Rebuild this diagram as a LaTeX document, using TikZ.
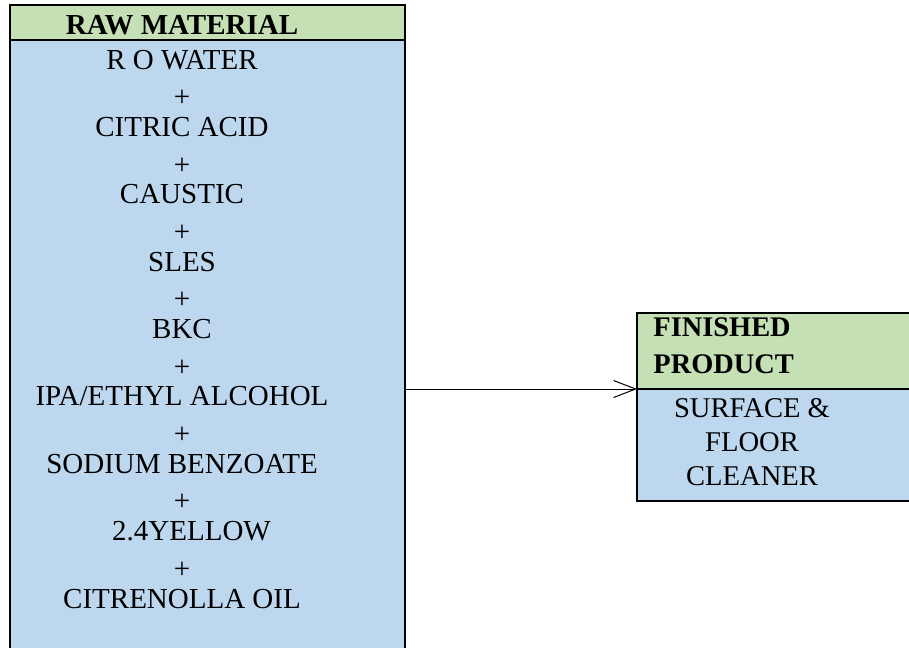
\documentclass[tikz,border=0pt]{standalone}
\usepackage{fontspec}
\setmainfont{Liberation Serif}
\usetikzlibrary{positioning, arrows.meta}
\definecolor{headgreen}{HTML}{C5E0B4}
\definecolor{bodyblue}{HTML}{BDD7EE}
\newcommand{\plusline}{\raisebox{-2pt}{+}}
\tikzstyle{headbox} = [rectangle, draw=black, line width=1pt, fill=headgreen, inner sep=0pt, outer sep=0pt]
\tikzstyle{bodybox} = [rectangle, draw=black, line width=1pt, fill=bodyblue, inner sep=0pt, outer sep=0pt]
\tikzstyle{title} = [inner sep=0pt, font=\fontsize{14.5}{16.84}\selectfont\bfseries]
\tikzstyle{items} = [inner sep=0pt, align=center, font=\fontsize{14.5}{16.84}\selectfont]
\tikzstyle{arrow} = [line width=0.5pt, -{Straight Barb[length=11pt, width=8.5pt]}]

\begin{document}
\begin{tikzpicture}[x=0.5pt, y=-0.5pt]
\useasboundingbox (0,0) rectangle (909,647);
\clip (0,0) rectangle (909,647);

\node (rawhead) [headbox, minimum width=197.5pt, minimum height=17.5pt, anchor=north west] at (10,5) {};
\node (rawbody) [bodybox, minimum width=197.5pt, minimum height=320pt, below=0pt of rawhead] {};
\node (rawtitle) [title, anchor=base] at (182,35) {RAW MATERIAL};
% base of a multi-line node is its last line
\node (rawlist) [items, anchor=base] at (182,608) {R O WATER\\ \plusline\\ CITRIC ACID\\ \plusline\\ CAUSTIC\\ \plusline\\ SLES\\ \plusline\\ BKC\\ \plusline\\ IPA/ETHYL ALCOHOL\\ \plusline\\ SODIUM BENZOATE\\ \plusline\\ \hspace*{9.5pt}2.4YELLOW\\ \plusline\\ CITRENOLLA OIL};

\node (prodhead) [headbox, minimum width=165pt, minimum height=38pt, anchor=north west] at (637,313) {};
\node (prodbody) [bodybox, minimum width=165pt, minimum height=56pt, below=0pt of prodhead] {};
\node (prodtitle) [title, align=left, anchor=base west, font=\fontsize{14.2}{18.5}\selectfont\bfseries] at (653,373) {FINISHED\\ PRODUCT};
\node (prodlist) [items, anchor=base, font=\fontsize{14.3}{17}\selectfont] at (752,485) {SURFACE \&\\ FLOOR\\ CLEANER};

\draw [arrow] (rawbody.east |- prodbody.north west) -- (prodbody.north west);
\end{tikzpicture}
\end{document}
